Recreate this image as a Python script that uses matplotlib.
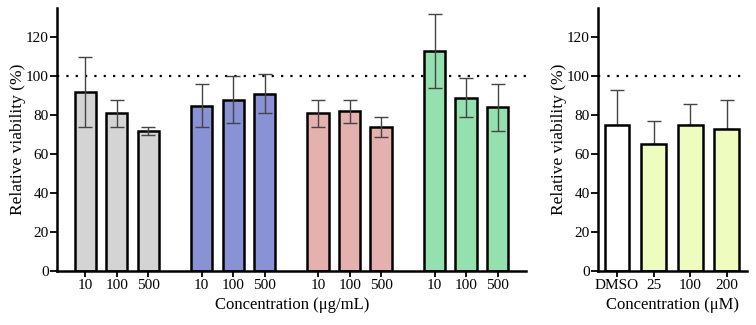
import numpy as np
import matplotlib
matplotlib.use("Agg")
import matplotlib.pyplot as plt

plt.rcParams['font.family'] = ['Liberation Serif', 'DejaVu Serif']

# left panel data (ug/mL), four groups of three concentrations
conc_labels = ["10", "100", "500"]
group_colors = ["#d4d4d4", "#8a92d6", "#e4b1ae", "#94e0ae"]
group_means = [[92, 81, 72], [85, 88, 91], [81, 82, 74], [113, 89, 84]]
group_errs = [[18, 7, 2], [11, 12, 10], [7, 6, 5], [19, 10, 12]]

# right panel data (uM)
right_labels = ["DMSO", "25", "100", "200"]
right_means = [75, 65, 75, 73]
right_errs = [18, 12, 11, 15]
right_colors = ["#ffffff", "#eefdbf", "#eefdbf", "#eefdbf"]

fig = plt.figure(figsize=(7.56, 3.25), dpi=100)
ax1 = fig.add_axes([0.0754, 0.166, 0.621, 0.809])
ax2 = fig.add_axes([0.791, 0.166, 0.197, 0.809])

def style(ax):
    for s in ["top", "right"]:
        ax.spines[s].set_visible(False)
    for s in ["left", "bottom"]:
        ax.spines[s].set_linewidth(1.8)
    ax.set_ylim(0, 135)
    ax.set_yticks(range(0, 121, 20))
    ax.tick_params(axis="y", length=5, width=1.3, labelsize=11, pad=1)
    ax.tick_params(axis="x", length=4, width=1.3, labelsize=11, pad=2)
    ax.set_ylabel("Relative viability (%)", fontsize=12.5, labelpad=-0.5)

# left panel
group_step = 3.7
xs, labels = [], []
for g in range(len(group_means)):
    pos = g * group_step + np.arange(3)
    ax1.bar(pos, group_means[g], width=0.68, color=group_colors[g],
            edgecolor="black", linewidth=1.8, zorder=2)
    ax1.errorbar(pos, group_means[g], yerr=group_errs[g], fmt="none",
                 ecolor="#444444", elinewidth=1, capsize=5, capthick=1, zorder=3)
    xs.extend(pos)
    labels.extend(conc_labels)
ax1.set_xlim(-0.9, xs[-1] + 0.92)
ax1.set_xticks(xs)
ax1.set_xticklabels(labels)
ax1.axhline(100, color="black", linestyle=(0, (1, 3.2)), linewidth=1.6, zorder=1)
style(ax1)
ax1.set_xlabel("Concentration (μg/mL)", fontsize=12, labelpad=3)

# right panel
rx = np.arange(len(right_labels))
ax2.bar(rx, right_means, width=0.68, color=right_colors,
        edgecolor="black", linewidth=1.8, zorder=2)
ax2.errorbar(rx, right_means, yerr=[[0] * len(rx), right_errs], fmt="none",
             ecolor="#444444", elinewidth=1, capsize=5, capthick=1, zorder=1)
ax2.set_xlim(-0.52, rx[-1] + 0.55)
ax2.set_xticks(rx)
ax2.set_xticklabels(right_labels)
ax2.axhline(100, color="black", linestyle=(0, (1, 3.2)), linewidth=1.6, zorder=1)
style(ax2)
ax2.set_xlabel("Concentration (μM)", fontsize=12, labelpad=3)

fig.savefig("out.png", dpi=100)
